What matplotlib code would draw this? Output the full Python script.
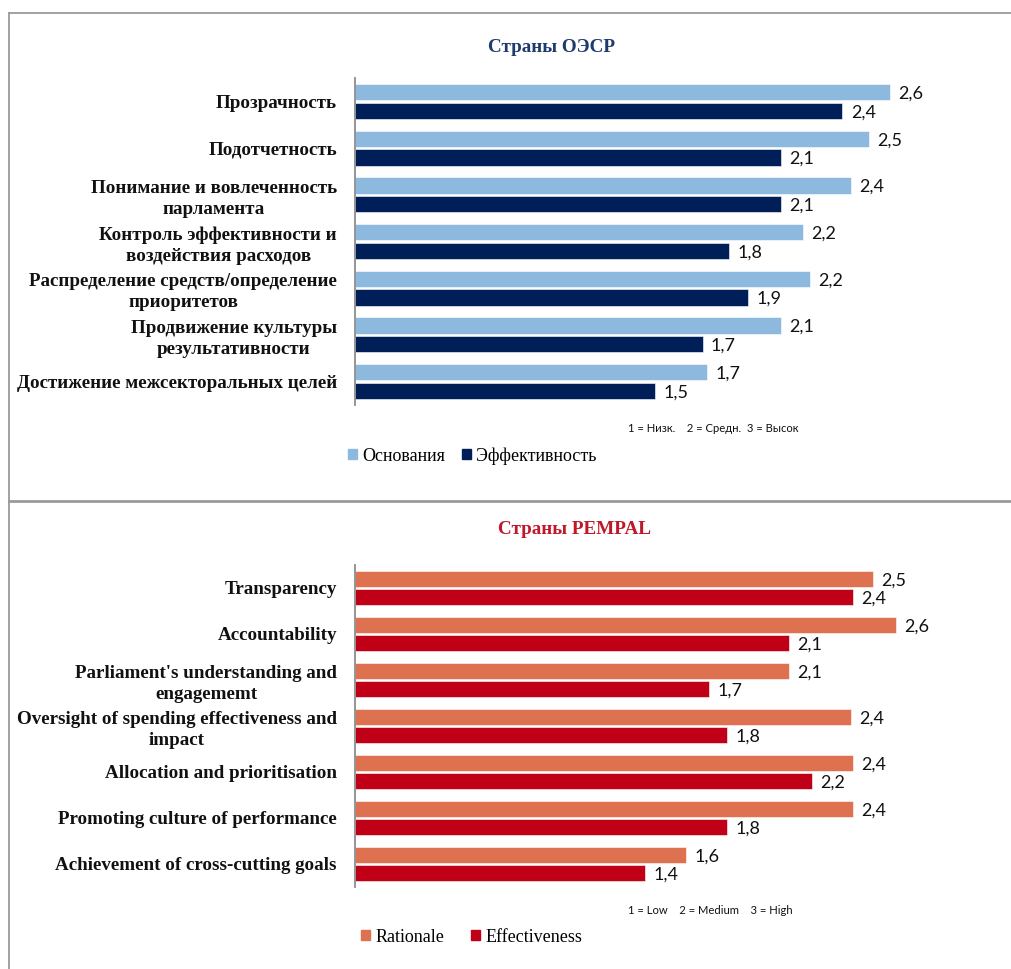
import matplotlib
matplotlib.use("Agg")
import matplotlib.pyplot as plt
from matplotlib.lines import Line2D
from matplotlib.patches import Patch
import numpy as np

# ---------------- data ----------------
oecd_categories = [
    "Прозрачность",
    "Подотчетность",
    "Понимание и вовлеченность\nпарламента",
    "Контроль эффективности и\nвоздействия расходов",
    "Распределение средств/определение\nприоритетов",
    "Продвижение культуры\nрезультативности",
    "Достижение межсекторальных целей",
]
oecd_rationale = [2.60, 2.50, 2.41, 2.18, 2.21, 2.07, 1.71]
oecd_effectiveness = [2.37, 2.07, 2.07, 1.82, 1.91, 1.69, 1.46]

pempal_categories = [
    "Transparency",
    "Accountability",
    "Parliament's understanding and\nengagememt",
    "Oversight of spending effectiveness and\nimpact",
    "Allocation and prioritisation",
    "Promoting culture of performance",
    "Achievement of cross-cutting goals",
]
pempal_rationale = [2.52, 2.63, 2.11, 2.41, 2.42, 2.42, 1.61]
pempal_effectiveness = [2.42, 2.11, 1.72, 1.81, 2.22, 1.81, 1.41]

oecd_title = "Страны ОЭСР"
pempal_title = "Страны PEMPAL"
oecd_legend = ["Основания", "Эффективность"]
pempal_legend = ["Rationale", "Effectiveness"]
oecd_note = "1 = Низк.    2 = Средн.  3 = Высок"
pempal_note = "1 = Low    2 = Medium    3 = High"

# ---------------- style ----------------
W, H = 1011, 969
DPI = 100
fig = plt.figure(figsize=(W / DPI, H / DPI), dpi=DPI)
fig.patch.set_facecolor("white")

SERIF = ["Liberation Serif", "DejaVu Serif"]
SANS = ["Lato", "DejaVu Sans"]

LIGHT_BLUE = "#8DB9DF"
NAVY = "#001E57"
ORANGE = "#DD7150"
RED = "#C00016"
TITLE_BLUE = "#1F3A6E"
TITLE_RED = "#C0182A"


def fx(px):
    return px / W


def fy(py):
    return 1 - py / H


def panel(top_px, bottom_px, cats, s1, s2, c1, c2):
    left_px, right_px = 355, 972
    ax = fig.add_axes([fx(left_px), fy(bottom_px), fx(right_px - left_px),
                       (bottom_px - top_px) / H])
    y = np.arange(len(cats))
    h = 0.35
    off = 0.2
    b1 = ax.barh(y - off, s1, height=h, color=c1, edgecolor="white", linewidth=0.4)
    b2 = ax.barh(y + off, s2, height=h, color=c2, edgecolor="white", linewidth=0.4)
    for cont, vals in ((b1, s1), (b2, s2)):
        texts = ax.bar_label(cont, labels=[f"{v:.1f}".replace(".", ",") for v in vals],
                             padding=6, fontsize=13, family=SANS, color="#111111")
        for t in texts:
            t.set_va("center_baseline")
    ax.set_xlim(0, 3)
    ax.set_ylim(len(cats) - 0.5, -0.5)
    ax.set_yticks(y)
    ax.set_yticklabels(cats, family=SERIF, fontweight="bold", fontsize=13.7,
                       multialignment="center", color="#111111", linespacing=1.3)
    ax.tick_params(axis="y", length=0, pad=13)
    ax.set_xticks([])
    for s in ("top", "right", "bottom"):
        ax.spines[s].set_visible(False)
    ax.spines["left"].set_color("#8c8c8c")
    ax.spines["left"].set_linewidth(1.3)
    ax.set_facecolor("none")
    return ax


panel(78, 405, oecd_categories, oecd_rationale, oecd_effectiveness, LIGHT_BLUE, NAVY)
panel(565, 887, pempal_categories, pempal_rationale, pempal_effectiveness, ORANGE, RED)

# titles
fig.text(fx(551), fy(47), oecd_title, ha="center", va="center", family=SERIF,
         fontweight="bold", fontsize=13.8, color=TITLE_BLUE)
fig.text(fx(575), fy(530), pempal_title, ha="center", va="center", family=SERIF,
         fontweight="bold", fontsize=13.8, color=TITLE_RED)

# notes
fig.text(fx(628), fy(429), oecd_note, ha="left", va="center", family=SANS,
         fontsize=8.1, color="#111111")
fig.text(fx(628), fy(911), pempal_note, ha="left", va="center", family=SANS,
         fontsize=8.1, color="#111111")

# legends
fig.legend(handles=[Patch(color=LIGHT_BLUE), Patch(color=NAVY)], labels=oecd_legend,
           loc="center left", bbox_to_anchor=(fx(348), fy(456)), ncol=2, frameon=False,
           prop={"family": SERIF, "size": 13}, handlelength=0.5, handleheight=0.5,
           handletextpad=0.3, columnspacing=0.9, borderpad=0, borderaxespad=0)
fig.legend(handles=[Patch(color=ORANGE), Patch(color=RED)], labels=pempal_legend,
           loc="center left", bbox_to_anchor=(fx(361), fy(937)), ncol=2, frameon=False,
           prop={"family": SERIF, "size": 13}, handlelength=0.5, handleheight=0.5,
           handletextpad=0.3, columnspacing=1.5, borderpad=0, borderaxespad=0)

# frame lines
frame_c = "#9a9a9a"
fig.add_artist(Line2D([fx(9), 1], [fy(13), fy(13)], color=frame_c, lw=1.3))
fig.add_artist(Line2D([fx(9), fx(9)], [0, fy(13)], color=frame_c, lw=1.3))
fig.add_artist(Line2D([fx(9), 1], [fy(500.5), fy(500.5)], color=frame_c, lw=2.0))

fig.savefig("out.png", dpi=DPI, facecolor="white")
